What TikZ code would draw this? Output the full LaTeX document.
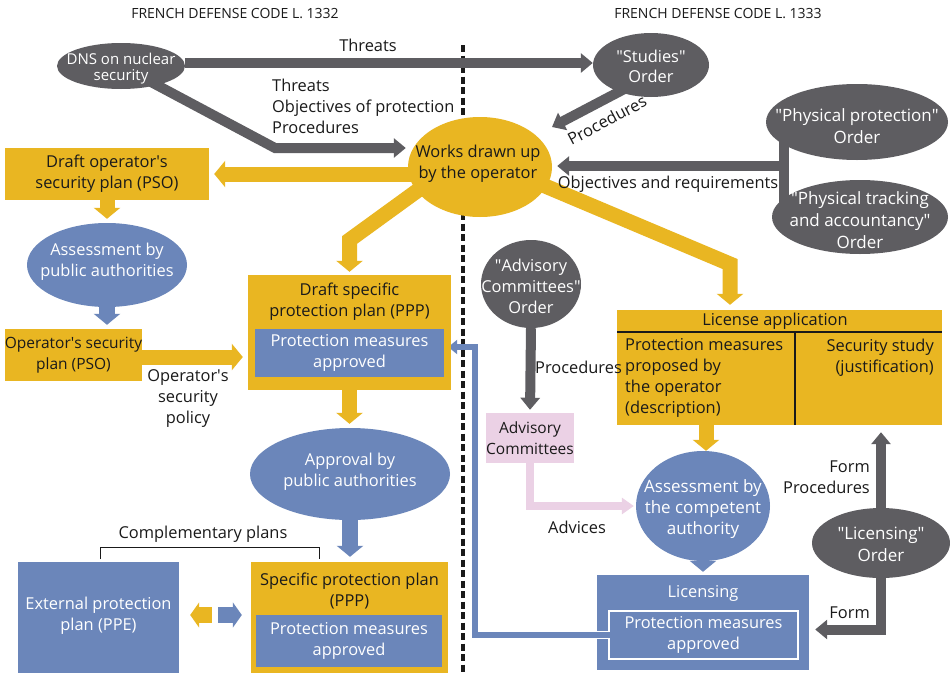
\documentclass[tikz,border=0pt]{standalone}
\usepackage{fontspec}
\setmainfont{Open Sans}
\usetikzlibrary{arrows.meta,shapes.geometric,calc}
\pgfdeclarelayer{background}
\pgfsetlayers{background,main}
\definecolor{cyel}{HTML}{E9B622}
\definecolor{cblu}{HTML}{6B86BA}
\definecolor{cgry}{HTML}{5E5D61}
\definecolor{cpnk}{HTML}{EBD1E5}
\definecolor{ctxt}{HTML}{1A1A1A}
\newcommand\mainfs{\fontsize{16.4}{21}\selectfont}
\newcommand\smallfs{\fontsize{15}{16}\selectfont}
\newcommand\hdrfs{\fontsize{14}{15}\selectfont}
\newcommand\bigfs{\fontsize{17}{22}\selectfont}
\newcommand\ap{\textquotesingle}
\newcommand\dq{\textquotedbl}
\tikzset{
  gell/.style={ellipse, fill=cgry, inner sep=0pt},
  bell/.style={ellipse, fill=cblu, inner sep=0pt},
  ybox/.style={rectangle, fill=cyel, text=ctxt, align=center, inner sep=0pt},
  bbox/.style={rectangle, fill=cblu, text=white, align=center, inner sep=0pt},
  pbox/.style={rectangle, fill=cpnk, text=ctxt, align=center, inner sep=0pt},
  wtxt/.style={text=white, align=center, inner sep=0pt},
  ktxt/.style={text=ctxt, align=center, inner sep=0pt},
  hdr/.style={text=ctxt, inner sep=0pt, font=\hdrfs},
  garrow/.style={draw=cgry, line width=10pt, line join=miter, -{Triangle[length=12pt,width=19pt]}},
  gbar/.style={draw=cgry, line width=10pt},
  yarrow/.style={draw=cyel, line width=15pt, line join=miter, -{Triangle[length=11pt,width=26pt]}},
  barrow/.style={draw=cblu, line width=16pt, -{Triangle[length=11pt,width=26pt]}},
  parrow/.style={draw=cpnk, line width=8pt, line join=miter, -{Triangle[length=12pt,width=16pt]}},
  fbarrow/.style={draw=cblu, line width=6pt, line join=miter, -{Triangle[length=9pt,width=14pt]}},
  twinarrow/.style={line width=16pt, -{Triangle[length=9pt,width=25pt]}},
}
\begin{document}
\begin{tikzpicture}[x=1pt,y=-1pt,font=\mainfs]
\useasboundingbox (0,0) rectangle (950,672);

% headers
\node[hdr] (h1) at (235,14) {FRENCH DEFENSE CODE L. 1332};
\node[hdr] (h2) at (718,14) {FRENCH DEFENSE CODE L. 1333};

% orders and decrees (grey)
\node[gell, minimum width=128pt, minimum height=46pt] (dns) at (121,66) {};
\node[wtxt, font=\smallfs] (dns-t) at (121,69) {DNS on nuclear\\security};
\node[gell, minimum width=116pt, minimum height=64pt] (studies) at (651,65) {};
\node[wtxt, font=\fontsize{16.4}{20}\selectfont] (studies-t) at (651,66) {\dq Studies\dq\\Order};
\node[gell, minimum width=182pt, minimum height=76pt] (phys) at (857,122) {};
\node[wtxt, font=\bigfs] (phys-t) at (857,126) {\dq Physical protection\dq\\Order};
\node[gell, minimum width=176pt, minimum height=74pt] (track) at (860,217) {};
\node[wtxt, font=\bigfs] (track-t) at (860,220) {\dq Physical tracking\\and accountancy\dq\\Order};
\node[gell, minimum width=100pt, minimum height=88pt] (advo) at (531,284) {};
\node[wtxt] (advo-t) at (531,286) {\dq Advisory\\Committees\dq\\Order};
\node[gell, minimum width=138pt, minimum height=70pt] (lord) at (881,543) {};
\node[wtxt, font=\bigfs] (lord-t) at (881,544) {\dq Licensing\dq\\Order};

% operator works
\node[ellipse, fill=cyel, inner sep=0pt, minimum width=144pt, minimum height=100pt] (works) at (480,167) {};
\node[ktxt] (works-t) at (478,163.5) {Works drawn up\\by the operator};

% left column: operator's security plan
\node[ybox, minimum width=204pt, minimum height=52pt] (pso) at (107,174) {Draft operator\ap s\\security plan (PSO)};
\node[bell, minimum width=160pt, minimum height=84pt] (assess) at (107,265) {};
\node[wtxt] (assess-t) at (107,261.5) {Assessment by\\public authorities};
\node[ybox, minimum width=137pt, minimum height=52pt, font=\fontsize{15.5}{21}\selectfont] (pso2) at (73.5,355) {Operator\ap s security\\plan (PSO)};

% specific protection plan
\node[ybox, minimum width=203pt, minimum height=115pt] (dppp) at (349.5,332.5) {};
\node[ktxt] (dppp-t) at (349.5,301.5) {Draft specific\\protection plan (PPP)};
\node[bbox, minimum width=189pt, minimum height=48pt] (dpppm) at (349.5,353) {Protection measures\\approved};
\node[bell, minimum width=200pt, minimum height=92pt] (approval) at (350,474) {};
\node[wtxt] (approval-t) at (350,471.5) {Approval by\\public authorities};
\node[ybox, minimum width=197pt, minimum height=120pt] (sppp) at (349.5,622) {};
\node[ktxt] (sppp-t) at (349.5,591.5) {Specific protection plan\\(PPP)};
\node[bbox, minimum width=186pt, minimum height=52pt] (spppm) at (349,641) {Protection measures\\approved};
\node[bbox, minimum width=161pt, minimum height=114pt] (ppe) at (98.5,619) {};
\node[wtxt] (ppe-t) at (98.5,615.5) {External protection\\plan (PPE)};

% license application
\node[ybox, minimum width=325pt, minimum height=115pt] (lic) at (779.5,367.5) {};
\node[ktxt] (lic-t) at (775,321) {License application};
\coordinate (lichl) at (617,332);
\coordinate (lichr) at (942,332);
\coordinate (licdt) at (795,332);
\coordinate (licdb) at (795,425);
\draw[ctxt, line width=1.2pt] (lichl) -- (lichr);
\draw[ctxt, line width=1.2pt] (licdt) -- (licdb);
\node[ktxt, align=left, anchor=west] (lic-l) at (625,377.5) {Protection measures\\proposed by\\the operator\\(description)};
\node[ktxt, align=right, anchor=east] (lic-r) at (934,357.5) {Security study\\(justification)};

\node[pbox, minimum width=84pt, minimum height=50pt, font=\fontsize{15.5}{21}\selectfont] (advc) at (530,438) {Advisory\\Committees};
\node[bell, minimum width=134pt, minimum height=110pt] (comp) at (703,506) {};
\node[wtxt, font=\fontsize{17}{21}\selectfont] (comp-t) at (703,509) {Assessment by\\the competent\\authority};
\node[bbox, minimum width=212pt, minimum height=95pt] (licg) at (703,622.5) {};
\node[wtxt] (licg-t) at (703,593) {Licensing};
\node[bbox, draw=white, line width=1.2pt, minimum width=189pt, minimum height=48pt] (licgm) at (703.5,635) {Protection measures\\approved};

% feedback bar entering the licensing frame
\draw[white, line width=8.4pt] (licg.west |- licgm.west) -- ([xshift=0.6pt]licgm.west);
\draw[cblu, line width=6pt] (licg.west |- licgm.west) -- ([xshift=1.2pt]licgm.west);

% labels on connectors
\node[ktxt] (l-threats) at (368,45) {Threats};
\node[ktxt, align=left, anchor=west] (l-dns) at (272,106) {Threats\\Objectives of protection\\Procedures};
\node[ktxt, rotate=28] (l-proc) at (607,120) {Procedures};
\node[ktxt] (l-objreq) at (668,184) {Objectives and requirements};
\node[ktxt] (l-policy) at (188,399) {Operator\ap s\\security\\policy};
\node[ktxt] (l-compl) at (203,534) {Complementary plans};
\node[ktxt, anchor=west] (l-advproc) at (535,367) {Procedures};
\node[ktxt] (l-advices) at (577,527) {Advices};
\node[ktxt, align=right, anchor=east] (l-formproc) at (870,477) {Form\\Procedures};
\node[ktxt, anchor=east] (l-form) at (870,613) {Form};

% bracket over the complementary plans
\coordinate (brl) at (100,559);
\coordinate (brr) at (319,559);
\draw[ctxt, line width=0.9pt] (brl) -- ++(0,-12) -| (brr);

\begin{pgfonlayer}{background}
  \fill[white] (0,0) rectangle (950,672);
  % boundary between the two code articles
  \coordinate (dtop) at (463,45);
  \coordinate (dbot) at (463,672);
  \draw[ctxt, line width=3.5pt, dash pattern=on 7pt off 3.5pt] (dtop) -- (dbot);

  % grey flows
  \draw[garrow] ([yshift=3pt]dns.east) -- ([yshift=3pt]dns.east -| studies.west);
  \coordinate (bend1) at (275,148);
  \draw[garrow, shorten >=2pt] (dns.center) -- (bend1) -- (bend1 -| works.west);
  \coordinate (proctip) at (552,127);
  \draw[garrow] ([yshift=-10pt]studies.center) -- (proctip);
  \coordinate (pj) at (784,166);
  \draw[gbar] (phys.center -| pj) -- (track.center -| pj);
  \draw[garrow] (pj) -- ([xshift=5pt]pj -| works.east);
  \draw[garrow, shorten >=3pt] (advo.south) -- (advc.north);
  \draw[garrow, shorten >=7pt] (lord.north) -- (lord.north |- lic.south);
  \draw[garrow, shorten >=6pt] (lord.south) |- ([yshift=-7pt]licg.east);

  % yellow flows
  \draw[yarrow] (works.center |- pso.east) -- ([xshift=5pt]pso.east);
  \coordinate (bend2) at (349.5,240);
  \draw[yarrow, shorten >=3pt] ([xshift=-30pt]works.center) -- (bend2) -- (bend2 |- dppp.north);
  \coordinate (bend3) at (730,264);
  \draw[yarrow, shorten >=5pt] ([xshift=20pt]works.center) -- (bend3) -- (bend3 |- lic.north);
  \draw[yarrow, shorten >=4pt] (pso.south) -- (pso.south |- assess.north);
  \draw[yarrow, shorten >=5pt] ([yshift=-2pt]pso2.east) -- ([yshift=-2pt]pso2.east -| dppp.west);
  \draw[yarrow, shorten >=4pt] (dppp.south) -- (dppp.south |- approval.north);
  \draw[yarrow] ([xshift=3pt]comp.north |- lic.south) -- ([xshift=3pt]comp.north);

  % blue flows
  \draw[barrow, shorten >=4pt] (assess.south) -- (assess.south |- pso2.north);
  \draw[barrow, shorten >=5pt] (approval.south) -- (approval.south |- sppp.north);
  \draw[barrow, shorten >=3pt] (comp.south) -- (licg.north);
  \coordinate (fb) at (475,347);
  \draw[fbarrow, shorten >=4pt] (licgm.west) -| (fb) -- (fb -| dpppm.east);

  % exchange between the complementary plans
  \draw[twinarrow, draw=cyel, shorten <=39pt, shorten >=11pt] ([yshift=4pt]ppe.east -| sppp.west) -- ([yshift=4pt]ppe.east);
  \draw[twinarrow, draw=cblu, shorten <=39pt, shorten >=9pt] ([yshift=4pt]ppe.east) -- ([yshift=4pt]ppe.east -| sppp.west);

  % advice flow
  \draw[parrow, shorten >=2pt] (advc.south) |- (comp.west);
\end{pgfonlayer}
\end{tikzpicture}
\end{document}
